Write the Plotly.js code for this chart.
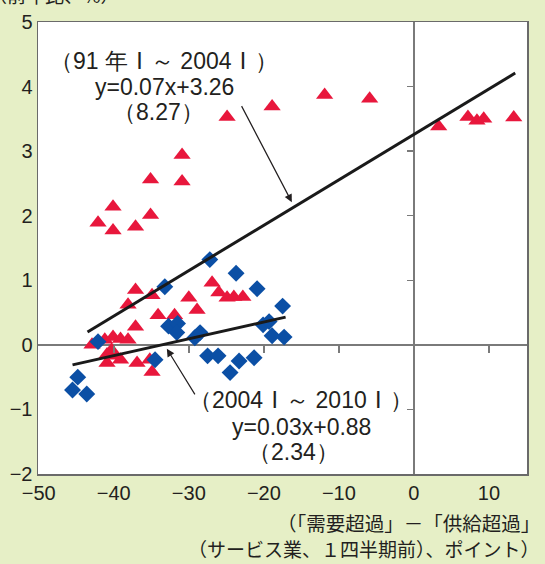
<!DOCTYPE html>
<html><head><meta charset="utf-8">
<script src="https://cdn.plot.ly/plotly-3.0.1.min.js"></script>
<style>body{margin:0;padding:0;background:#e6efc6;}</style>
</head><body><div id="chart" style="width:545px;height:564px;"></div>
<script>
// Red triangles: 1991 I – 2004 I
const redX = [-24.9,-18.9,-11.9,-5.9,3.3,7.2,8.4,9.3,13.3,
  -30.9,-35.1,-30.9,-40.1,-35.1,-42.1,-37.1,-40.1,
  -37.1,-34.9,-38.1,-34.1,-31.9,-30.0,-28.9,-26.9,-26.0,-24.9,-24.0,-22.8,-37.1,
  -42.9,-41.2,-40.1,-39.1,-38.1,-40.3,-40.9,-39.9,-39.1,-36.9,-35.2,-34.9,-40.9];
const redY = [3.53,3.69,3.87,3.81,3.38,3.53,3.47,3.50,3.52,
  2.94,2.56,2.53,2.14,2.01,1.89,1.83,1.77,
  0.85,0.77,0.62,0.46,0.46,0.73,0.54,0.96,0.81,0.73,0.74,0.74,0.28,
  0.00,0.08,0.12,0.09,0.08,-0.08,-0.28,-0.17,-0.23,-0.28,-0.23,-0.42,-0.15];
// Blue diamonds: 2004 I – 2010 I
const blueX = [-45.5,-44.8,-43.6,-42.1,-34.5,-33.2,-32.7,-31.5,-31.6,-29.2,-28.5,-27.2,
  -27.5,-26.1,-23.7,-23.3,-24.5,-21.3,-20.9,-20.1,-19.3,-18.9,-17.3,-17.5];
const blueY = [-0.70,-0.50,-0.76,0.05,-0.23,0.90,0.29,0.33,0.19,0.11,0.19,1.32,
  -0.17,-0.17,1.11,-0.25,-0.43,-0.20,0.87,0.31,0.36,0.14,0.12,0.60];
// Regression lines (end points)
const lineAX = [-43.5, 13.5];
const lineAY = [0.20, 4.21];
const lineBX = [-45.5, -17.1];
const lineBY = [-0.31, 0.43];
// Axis ticks
const xTicks = [-50,-40,-30,-20,-10,0,10];
const yTicks = [-2,-1,0,1,2,3,4,5];
const xInnerTicks = [-40,-30,-20,-10,10];
const yInnerTicks = [-1,1,2,3,4];

const XR = [-50.1, 15.07];
const YR = [-2, 5];
const FONT = 'Liberation Sans, Arial, sans-serif';
const JFONT = 'Noto Sans CJK JP, sans-serif';
const ROMAN = '<span style="font-family:\'Noto Sans CJK JP\'">Ⅰ</span>';

const traces = [
  {x: redX, y: redY, type: 'scatter', mode: 'markers',
   marker: {symbol: 'triangle-up', size: 15, color: '#e8173c'}, hoverinfo: 'skip'},
  {x: blueX, y: blueY, type: 'scatter', mode: 'markers',
   marker: {symbol: 'diamond', size: 13, color: '#0b4fa5'}, hoverinfo: 'skip'},
  {x: lineAX, y: lineAY, type: 'scatter', mode: 'lines',
   line: {color: '#1a1a1a', width: 3}, hoverinfo: 'skip'},
  {x: lineBX, y: lineBY, type: 'scatter', mode: 'lines',
   line: {color: '#1a1a1a', width: 3}, hoverinfo: 'skip'},
  {x: [0], y: [0], xaxis: 'x2', yaxis: 'y2', type: 'scatter', mode: 'markers',
   marker: {opacity: 0}, hoverinfo: 'skip'}
];

const yZeroFrac = (0 - YR[0]) / (YR[1] - YR[0]);
const xZeroFrac = (0 - XR[0]) / (XR[1] - XR[0]);

const ann = (x, y, text, opts) => Object.assign({x, y, xref: 'x', yref: 'y', text, showarrow: false,
  font: {family: FONT, size: 23, color: '#231f20'}}, opts || {});

const layout = {
  width: 545, height: 564,
  margin: {l: 38, r: 18, t: 22, b: 90},
  paper_bgcolor: '#e6efc6', plot_bgcolor: '#ffffff',
  showlegend: false,
  font: {family: FONT, size: 20, color: '#231f20'},
  xaxis: {range: XR, tickvals: xTicks, ticks: '', showgrid: false,
    zeroline: true, zerolinecolor: '#7a7a7a', zerolinewidth: 1.5,
    showline: true, mirror: true, linecolor: '#6a6a6a', linewidth: 1.5,
    tickfont: {size: 20}, fixedrange: true},
  yaxis: {range: YR, tickvals: yTicks, ticks: '', showgrid: false,
    zeroline: true, zerolinecolor: '#7a7a7a', zerolinewidth: 1.5,
    showline: true, mirror: true, linecolor: '#6a6a6a', linewidth: 1.5,
    tickfont: {size: 20}, fixedrange: true},
  xaxis2: {range: XR, overlaying: 'x', anchor: 'free', position: yZeroFrac,
    tickvals: xInnerTicks, ticks: 'outside', ticklen: 7, tickwidth: 1.5, tickcolor: '#7a7a7a',
    showticklabels: false, showgrid: false, zeroline: false, showline: false},
  yaxis2: {range: YR, overlaying: 'y', anchor: 'free', position: xZeroFrac,
    tickvals: yInnerTicks, ticks: 'outside', ticklen: 7, tickwidth: 1.5, tickcolor: '#7a7a7a',
    showticklabels: false, showgrid: false, zeroline: false, showline: false},
  annotations: [
    ann(-33.3, 4.43, '（91 年' + ROMAN + '～ 2004' + ROMAN + '）'),
    ann(-33.3, 4.0, 'y=0.07x+3.26'),
    ann(-34.0, 3.6, '（8.27）'),
    ann(-15.0, -0.82, '（2004' + ROMAN + '～ 2010' + ROMAN + '）'),
    ann(-15.0, -1.27, 'y=0.03x+0.88'),
    ann(-16.0, -1.66, '（2.34）'),
    {x: -16.27, y: 2.21, ax: -23.07, ay: 3.72, xref: 'x', yref: 'y', axref: 'x', ayref: 'y',
     text: '', showarrow: true, arrowhead: 2, arrowsize: 1.3, arrowwidth: 1.2, arrowcolor: '#231f20'},
    {x: -32.93, y: -0.06, ax: -29.07, ay: -0.79, xref: 'x', yref: 'y', axref: 'x', ayref: 'y',
     text: '', showarrow: true, arrowhead: 2, arrowsize: 1.3, arrowwidth: 1.2, arrowcolor: '#231f20'},
    {x: 542, y: 522, xref: 'paper', yref: 'paper', text: '（「需要超過」－「供給超過」',
     showarrow: false, font: {family: JFONT, size: 19.5, color: '#231f20'}},
    {x: 542, y: 548, xref: 'paper', yref: 'paper', text: '（サービス業、１四半期前）、ポイント）',
     showarrow: false, font: {family: JFONT, size: 19, color: '#231f20'}},
    {x: 122, y: -5, xref: 'paper', yref: 'paper', text: '（前年比、%）',
     showarrow: false, font: {family: JFONT, size: 19, color: '#231f20'}}
  ]
};
// convert pixel-placed paper annotations to paper fractions
const pw = 545 - 38 - 18, ph = 564 - 22 - 90;
layout.annotations.forEach(a => {
  if (a.xref === 'paper') {
    const px = a.x, py = a.y;
    a.x = (px - 38) / pw; a.y = (564 - 90 - py) / ph;
    a.xanchor = 'right'; a.yanchor = 'middle';
  }
});
Plotly.newPlot('chart', traces, layout, {staticPlot: true, displayModeBar: false});
</script>
</body></html>
